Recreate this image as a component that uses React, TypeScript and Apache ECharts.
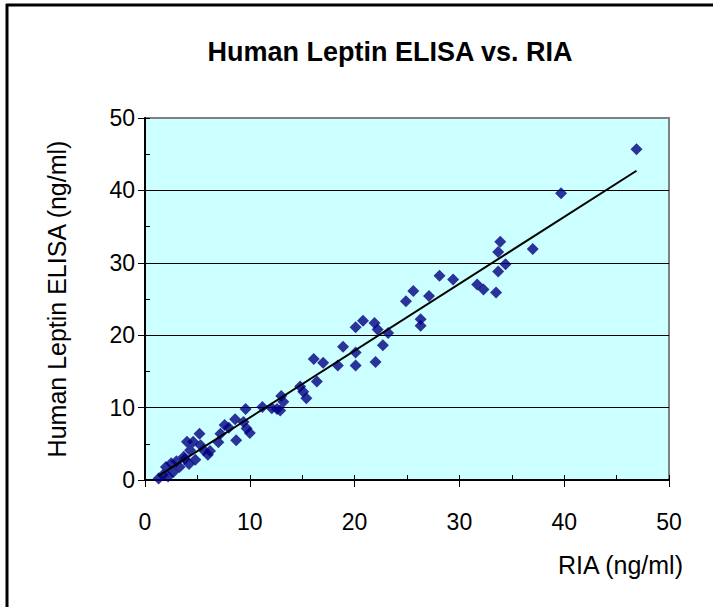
import React, { useEffect, useRef } from "react";
import * as echarts from "echarts";

const titleText = "Human Leptin ELISA vs. RIA";
const xAxisName = "RIA (ng/ml)";
const yAxisName = "Human Leptin ELISA (ng/ml)";

// RIA (x) and ELISA (y) values
const riaValues = [
  46.9, 39.7, 37.0, 34.4, 33.9, 33.7, 33.7, 33.5, 32.3, 31.7,
  29.4, 28.1, 27.1, 25.6, 24.9, 26.3, 26.3, 23.2, 22.7, 22.2,
  21.9, 20.8, 20.1, 22.0, 20.1, 20.1, 18.9, 18.4, 17.0, 16.1,
  16.4, 14.8, 15.1, 15.4, 13.0, 13.2, 12.6, 12.1, 11.2, 9.6,
  8.6, 7.6, 7.2, 8.7, 10.0, 9.7, 5.2, 4.6, 4.0, 4.3,
  5.6, 6.0, 3.7, 2.5, 3.3, 2.7, 1.7, 1.3, 2.2, 4.8,
  4.2, 3.8, 5.3, 7.0, 6.2, 8.0, 9.4, 2.0, 12.9, 3.0,
];
const elisaValues = [
  45.7, 39.6, 31.9, 29.8, 32.9, 31.5, 28.8, 25.9, 26.3, 27.0,
  27.7, 28.2, 25.4, 26.1, 24.7, 22.2, 21.3, 20.3, 18.6, 20.8,
  21.7, 22.0, 21.1, 16.3, 17.6, 15.8, 18.4, 15.8, 16.2, 16.7,
  13.6, 12.9, 12.2, 11.3, 11.6, 10.8, 9.8, 9.9, 10.1, 9.8,
  8.4, 7.6, 6.4, 5.5, 6.5, 7.1, 6.4, 5.3, 5.3, 4.1,
  4.1, 3.5, 3.2, 2.3, 1.8, 1.1, 0.7, 0.2, 0.5, 2.8,
  2.2, 2.9, 4.8, 5.2, 4.0, 7.2, 8.0, 1.8, 9.6, 2.6,
];

// linear trend line
const trendSlope = 0.924;
const trendIntercept = -0.62;

const axisTicks = [0, 10, 20, 30, 40, 50];

export default function App() {
  const ref = useRef<HTMLDivElement>(null);

  useEffect(() => {
    if (!ref.current) return;
    const chart = echarts.init(ref.current, undefined, { renderer: "svg" });
    const points = riaValues.map((x, i) => [x, elisaValues[i]]);
    const xMin = Math.min(...riaValues);
    const xMax = Math.max(...riaValues);
    const trend = [
      [xMin, trendSlope * xMin + trendIntercept],
      [xMax, trendSlope * xMax + trendIntercept],
    ];
    const font = "Liberation Sans, Arial, sans-serif";
    const axisMin = axisTicks[0];
    const axisMax = axisTicks[axisTicks.length - 1];
    const step = axisTicks[1] - axisTicks[0];

    chart.setOption({
      animation: false,
      backgroundColor: "#ffffff",
      title: {
        text: titleText,
        left: 385,
        textAlign: "center",
        top: 33,
        textStyle: { fontFamily: font, fontSize: 27, fontWeight: "bold", color: "#000" },
      },
      grid: {
        left: 145,
        right: 44,
        top: 118,
        bottom: 127,
        show: true,
        backgroundColor: "#CCFFFF",
        borderColor: "#808080",
        borderWidth: 2,
      },
      xAxis: [
        {
          type: "value",
          min: axisMin,
          max: axisMax,
          interval: step,
          name: xAxisName,
          nameLocation: "end",
          nameGap: 14,
          nameTextStyle: {
            fontFamily: font,
            fontSize: 25,
            color: "#000",
            align: "right",
            verticalAlign: "top",
            padding: [72, 0, 0, 0],
          },
          axisLine: { lineStyle: { color: "#000", width: 2 } },
          axisTick: { show: true, inside: false, length: 7, lineStyle: { color: "#000", width: 1 } },
          axisLabel: { fontFamily: font, fontSize: 23, color: "#000", margin: 30 },
          splitLine: { show: false },
        },
        {
          type: "value",
          min: axisMin,
          max: axisMax,
          interval: step,
          position: "bottom",
          axisLine: { show: false },
          axisTick: { show: true, inside: true, length: 5, lineStyle: { color: "#000", width: 1 } },
          minorTick: { show: true, splitNumber: 2, length: 5, lineStyle: { color: "#000", width: 1 } },
          axisLabel: { show: false },
          splitLine: { show: false },
        },
      ],
      yAxis: [
        {
          type: "value",
          min: axisMin,
          max: axisMax,
          interval: step,
          name: yAxisName,
          nameLocation: "middle",
          nameGap: 76,
          nameTextStyle: { fontFamily: font, fontSize: 25, color: "#000" },
          axisLine: { lineStyle: { color: "#000", width: 2 } },
          axisTick: { show: true, inside: false, length: 7, lineStyle: { color: "#000", width: 1 } },
          axisLabel: { fontFamily: font, fontSize: 23, color: "#000", margin: 10 },
          splitLine: { show: true, showMaxLine: false, showMinLine: false, lineStyle: { color: "#000", width: 1 } },
        },
        {
          type: "value",
          min: axisMin,
          max: axisMax,
          interval: step,
          position: "left",
          offset: 0,
          axisLine: { show: false },
          axisTick: { show: true, inside: true, length: 5, lineStyle: { color: "#000", width: 1 } },
          minorTick: { show: true, splitNumber: 2, length: 5, lineStyle: { color: "#000", width: 1 } },
          axisLabel: { show: false },
          splitLine: { show: false },
        },
      ],
      graphic: [
        { type: "line", shape: { x1: 7, y1: 4, x2: 7, y2: 607 }, style: { stroke: "#000", lineWidth: 3 } },
        { type: "line", shape: { x1: 6, y1: 5, x2: 713, y2: 5 }, style: { stroke: "#000", lineWidth: 3 } },
      ],
      series: [
        {
          type: "scatter",
          data: points,
          symbol: "diamond",
          symbolSize: 12,
          itemStyle: { color: "#000080" },
          z: 3,
        },
        {
          type: "line",
          data: trend,
          symbol: "none",
          lineStyle: { color: "#000", width: 2 },
          z: 4,
        },
      ],
    });
    return () => chart.dispose();
  }, []);

  return (
    <div
      ref={ref}
      style={{ position: "fixed", left: 0, top: 0, width: 713, height: 607 }}
    />
  );
}
